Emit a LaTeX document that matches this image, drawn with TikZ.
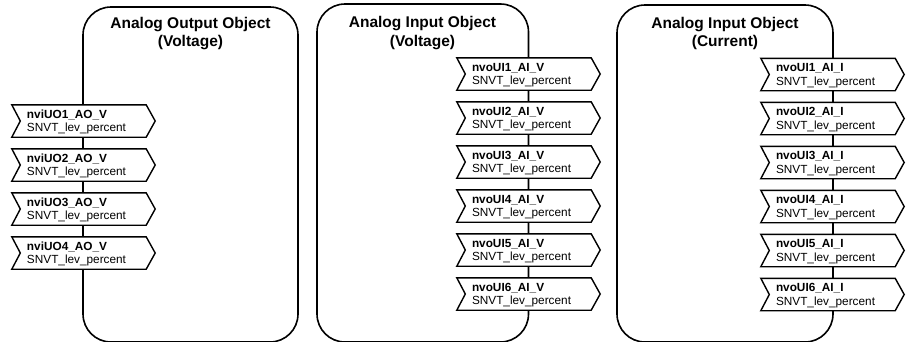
\documentclass[tikz,border=0pt]{standalone}
\usepackage{fontspec}
\setmainfont{Liberation Sans}
\pgfdeclarelayer{frame}
\pgfdeclarelayer{chevron}
\pgfsetlayers{frame,chevron,main}
\tikzset{
  objbox/.style={draw, line width=1.6pt, rounded corners=28pt, inner sep=0pt},
  objtitle/.style={font=\bfseries\fontsize{15.5}{18.5}\selectfont, anchor=base, inner sep=0pt},
  nvbody/.style={rectangle, minimum width=134pt, minimum height=32pt, inner sep=0pt,
    text width=104pt, align=left, font=\fontsize{11.8}{13.4}\selectfont},
  nvline/.style={draw, fill=white, line width=1.4pt, line join=miter},
}
% two-line label of a network variable
\newcommand\nvtext[1]{\mbox{\rule{0pt}{10.5pt}\textbf{#1}}\\\mbox{SNVT\_lev\_percent}}
% chevron outline round a network-variable node
\newcommand\nvchevron[1]{%
  \begin{pgfonlayer}{chevron}
    \path[nvline] (#1.north west) -- (#1.north east) -- ([xshift=9pt]#1.east)
      -- (#1.south east) -- (#1.south west) -- ([xshift=8.5pt]#1.west) -- cycle;
  \end{pgfonlayer}}
\begin{document}
\begin{tikzpicture}[x=1pt, y=-1pt]
  \useasboundingbox (0,0) rectangle (910,341);
  \clip (0,0) rectangle (910,341);

  \begin{pgfonlayer}{frame}
    \fill[white] (0,0) rectangle (910,341);
    % object blocks
    \node[objbox, minimum width=215pt, minimum height=335pt] (ao) at (190.5,174.5) {};
    \node[objbox, minimum width=211.5pt, minimum height=338pt] (aiv) at (422.75,173) {};
    \node[objbox, minimum width=216pt, minimum height=337pt] (aii) at (725,173.5) {};
  \end{pgfonlayer}

  % titles
  \node[objtitle] (ao1) at (190.5,28) {Analog Output Object};
  \node[objtitle] (ao2) at (190.5,46) {(Voltage)};
  \node[objtitle] (aiv1) at (422.5,27.5) {Analog Input Object};
  \node[objtitle] (aiv2) at (422.5,46) {(Voltage)};
  \node[objtitle] (aii1) at (725,28) {Analog Input Object};
  \node[objtitle] (aii2) at (725,46.5) {(Current)};

  % network variables of the output object
  \foreach \i in {1,...,4} {
    \node[nvbody] (ao-nv\i) at (79,{121+44*(\i-1)}) {\nvtext{nviUO\i\_AO\_V}};
    \nvchevron{ao-nv\i}
  }

  % network variables of the voltage input object
  \foreach \i in {1,...,6} {
    \node[nvbody] (aiv-nv\i) at (524,{74+44*(\i-1)}) {\nvtext{nvoUI\i\_AI\_V}};
    \nvchevron{aiv-nv\i}
  }

  % network variables of the current input object
  \foreach \i in {1,...,6} {
    \node[nvbody] (aii-nv\i) at (828,{74.5+44*(\i-1)}) {\nvtext{nvoUI\i\_AI\_I}};
    \nvchevron{aii-nv\i}
  }
\end{tikzpicture}
\end{document}
